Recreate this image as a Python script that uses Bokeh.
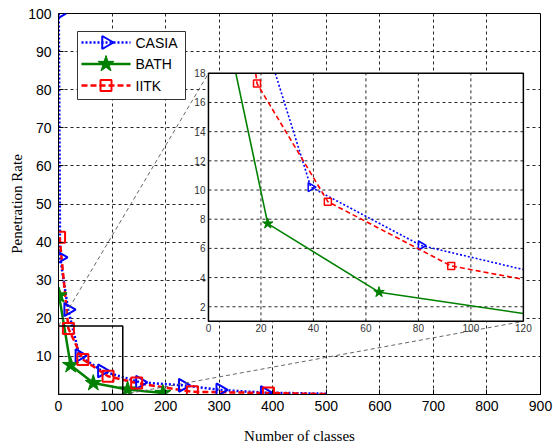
import numpy as np
from bokeh.plotting import figure
from bokeh.models import Range1d, FixedTicker
from bokeh.core.properties import value
from bokeh.embed import file_html
from bokeh.resources import INLINE

# ---------------- data ----------------
series_names = ["CASIA", "BATH", "IITK"]

casia_x = [0.5, 3, 18, 39, 81, 152, 232, 302, 385, 500]
casia_y = [100, 36, 22.3, 10.2, 6.2, 3.2, 2.4, 1.2, 0.5, 0.2]
casia_marks = 9  # markers on the first 9 points

bath_x = [1, 22.6, 65, 129, 195]
bath_y = [26, 7.7, 3.0, 1.3, 0.4]
bath_marks = 5

iitk_x = [2, 18.5, 45.5, 92.5, 146, 250, 392, 500]
iitk_y = [41.3, 17.3, 9.2, 4.8, 3.0, 0.7, 0.4, 0.1]
iitk_marks = 7

x_ticks = [0, 100, 200, 300, 400, 500, 600, 700, 800, 900]
y_ticks = [0, 10, 20, 30, 40, 50, 60, 70, 80, 90, 100]
inset_x_ticks = [0, 20, 40, 60, 80, 100, 120]
inset_y_ticks = [2, 4, 6, 8, 10, 12, 14, 16, 18]

# ---------------- layout constants ----------------
W, H = 553, 448
BL, BR, BT, BB = 58, 13, 13, 54
FRAME_W, FRAME_H = W - BL - BR, H - BT - BB
MAIN_X = (0, 900)
MAIN_Y = (0, 100)
ZOOM_X = (0, 120)
ZOOM_Y = (0, 18)
INSET_XR = (0, 120)
INSET_YR = (1, 18)
BOX_X0, BOX_X1 = 280, 868      # inset placement in main data coords
BOX_Y0, BOX_Y1 = 19.2, 84.3

BLUE, GREEN, RED = "#0000ff", "#008000", "#ff0000"
SANS = "Liberation Sans"
SERIF = "Liberation Serif"

p = figure(width=W, height=H, x_range=MAIN_X, y_range=MAIN_Y,
           output_backend="svg", toolbar_location=None,
           min_border_left=BL, min_border_right=BR, min_border_top=BT,
           min_border_bottom=BB)
p.background_fill_color = "white"
p.border_fill_color = "white"
p.outline_line_color = "black"
p.outline_line_width = 1

p.xaxis.ticker = FixedTicker(ticks=x_ticks)
p.yaxis.ticker = FixedTicker(ticks=y_ticks)
p.yaxis.major_label_overrides = {0: ""}
for ax in (p.xaxis[0], p.yaxis[0]):
    ax.axis_line_color = "black"
    ax.major_tick_in = 5
    ax.major_tick_out = 0
    ax.minor_tick_line_color = None
    ax.major_label_text_font = SANS
    ax.major_label_text_font_size = "14px"
    ax.major_label_text_color = "black"
    ax.axis_label_text_font = SERIF
    ax.axis_label_text_font_size = "15px"
    ax.axis_label_text_font_style = "normal"
    ax.axis_label_text_color = "black"
p.xaxis.axis_label = "Number of classes"
p.yaxis.axis_label = "Penetration Rate"
p.xaxis.major_label_standoff = 6
p.xaxis.axis_label_standoff = 14
p.yaxis.major_label_standoff = 7
p.yaxis.axis_label_standoff = 0

for g in (p.xgrid[0], p.ygrid[0]):
    g.grid_line_color = "black"
    g.grid_line_dash = "3 3"
    g.grid_line_alpha = 0.85
    g.grid_line_width = 1

STYLE = {
    "CASIA": dict(color=BLUE, dash="2 2", idash="2 2", marker="triangle", angle=-np.pi / 2,
                  size=13, isize=9, fill=None),
    "BATH": dict(color=GREEN, dash="solid", idash="solid", marker="star", angle=0,
                 size=17, isize=11, fill=GREEN),
    "IITK": dict(color=RED, dash="6 3", idash="5 3", marker="square", angle=0,
                 size=11, isize=7, fill=None),
}
DATA = {"CASIA": (casia_x, casia_y, casia_marks),
        "BATH": (bath_x, bath_y, bath_marks),
        "IITK": (iitk_x, iitk_y, iitk_marks)}

# ---------------- main series ----------------
for name in ["CASIA", "BATH", "IITK"]:
    xs, ys, n = DATA[name]
    st = STYLE[name]
    p.line(xs, ys, line_color=st["color"], line_width=2.5, line_dash=st["dash"])
for name in ["CASIA", "BATH", "IITK"]:
    xs, ys, n = DATA[name]
    st = STYLE[name]
    p.scatter(xs[:n], ys[:n], marker=st["marker"], angle=st["angle"], size=st["size"],
              fill_color=st["fill"], line_color=st["color"],
              line_width=1 if st["fill"] else 2)

# zoom box
p.quad(left=ZOOM_X[0], right=ZOOM_X[1], bottom=ZOOM_Y[0], top=ZOOM_Y[1],
       fill_color=None, line_color="black", line_width=1.5)
# connectors
p.segment(x0=[ZOOM_X[0], ZOOM_X[1]], y0=[ZOOM_Y[1], ZOOM_Y[0]],
          x1=[BOX_X0, BOX_X1], y1=[BOX_Y1, BOX_Y0],
          line_color="#666666", line_width=1, line_dash="4 3")

# ---------------- inset via extra ranges ----------------
sx = (INSET_XR[1] - INSET_XR[0]) / (BOX_X1 - BOX_X0)
sy = (INSET_YR[1] - INSET_YR[0]) / (BOX_Y1 - BOX_Y0)
p.extra_x_ranges = {"ix": Range1d(INSET_XR[0] - (BOX_X0 - MAIN_X[0]) * sx,
                                  INSET_XR[1] + (MAIN_X[1] - BOX_X1) * sx),
                    "lx": Range1d(0, FRAME_W)}
p.extra_y_ranges = {"iy": Range1d(INSET_YR[0] - (BOX_Y0 - MAIN_Y[0]) * sy,
                                  INSET_YR[1] + (MAIN_Y[1] - BOX_Y1) * sy),
                    "ly": Range1d(FRAME_H, 0)}
IR = dict(x_range_name="ix", y_range_name="iy")
LR = dict(x_range_name="lx", y_range_name="ly")

p.quad(left=INSET_XR[0], right=INSET_XR[1], bottom=INSET_YR[0], top=INSET_YR[1],
       fill_color="white", line_color=None, **IR)
gx = [t for t in inset_x_ticks if INSET_XR[0] < t < INSET_XR[1]]
gy = [t for t in inset_y_ticks if INSET_YR[0] < t < INSET_YR[1]]
p.segment(x0=gx, y0=[INSET_YR[0]] * len(gx), x1=gx, y1=[INSET_YR[1]] * len(gx),
          line_color="black", line_dash="3 3", line_width=1, line_alpha=0.85, **IR)
p.segment(x0=[INSET_XR[0]] * len(gy), y0=gy, x1=[INSET_XR[1]] * len(gy), y1=gy,
          line_color="black", line_dash="3 3", line_width=1, line_alpha=0.85, **IR)


def clip(xs, ys, xr, yr):
    """Clip a polyline to a rectangle (Liang-Barsky); returns list of pieces."""
    pieces, cur = [], []
    for i in range(len(xs) - 1):
        x0, y0, x1, y1 = xs[i], ys[i], xs[i + 1], ys[i + 1]
        dx, dy = x1 - x0, y1 - y0
        t0, t1 = 0.0, 1.0
        ok = True
        for pp, qq in ((-dx, x0 - xr[0]), (dx, xr[1] - x0),
                       (-dy, y0 - yr[0]), (dy, yr[1] - y0)):
            if pp == 0:
                if qq < 0:
                    ok = False
                    break
            else:
                r = qq / pp
                if pp < 0:
                    t0 = max(t0, r)
                else:
                    t1 = min(t1, r)
        if not ok or t0 > t1:
            if cur:
                pieces.append(cur)
                cur = []
            continue
        a = (x0 + t0 * dx, y0 + t0 * dy)
        b = (x0 + t1 * dx, y0 + t1 * dy)
        if not cur:
            cur = [a]
        cur.append(b)
        if t1 < 1.0:
            pieces.append(cur)
            cur = []
    if cur:
        pieces.append(cur)
    return [[q[0] for q in pc] for pc in pieces], [[q[1] for q in pc] for pc in pieces]


def inside(xs, ys, n):
    pts = [(x, y) for x, y in zip(xs[:n], ys[:n])
           if INSET_XR[0] <= x <= INSET_XR[1] and INSET_YR[0] <= y <= INSET_YR[1]]
    return [q[0] for q in pts], [q[1] for q in pts]


for name in ["CASIA", "IITK", "BATH"]:
    xs, ys, n = DATA[name]
    st = STYLE[name]
    cx, cy = clip(xs, ys, INSET_XR, INSET_YR)
    p.multi_line(cx, cy, line_color=st["color"], line_width=1.6, line_dash=st["idash"], **IR)
    mx, my = inside(xs, ys, n)
    p.scatter(mx, my, marker=st["marker"], angle=st["angle"], size=st["isize"],
              fill_color=st["fill"], line_color=st["color"],
              line_width=1 if st["fill"] else 1.5, **IR)

p.quad(left=INSET_XR[0], right=INSET_XR[1], bottom=INSET_YR[0], top=INSET_YR[1],
       fill_color=None, line_color="black", line_width=1.5, **IR)
p.text(x=inset_x_ticks, y=[INSET_YR[0]] * len(inset_x_ticks),
       text=[str(t) for t in inset_x_ticks], text_align="center", text_baseline="top",
       y_offset=3, text_font_size="10px", text_color="#333333",
       text_font=value(SANS), **IR)
p.text(x=[INSET_XR[0]] * len(inset_y_ticks), y=inset_y_ticks,
       text=[str(t) for t in inset_y_ticks], text_align="right", text_baseline="middle",
       x_offset=-3, text_font_size="10px", text_color="#333333",
       text_font=value(SANS), **IR)

# ---------------- legend (frame pixel coordinates, y down) ----------------
LEG_L, LEG_T, LEG_W, LEG_H = 19, 18, 108, 68
ROW0, ROW_STEP = 29, 21.5
LINE_X0, LINE_X1, LABEL_X = 23, 72, 77
p.quad(left=LEG_L, right=LEG_L + LEG_W, top=LEG_T, bottom=LEG_T + LEG_H,
       fill_color="white", line_color="#333333", line_width=1, **LR)
rows = [ROW0 + i * ROW_STEP for i in range(len(series_names))]
for name, ry in zip(series_names, rows):
    st = STYLE[name]
    p.line([LINE_X0, LINE_X1], [ry, ry], line_color=st["color"], line_width=2.5,
           line_dash=st["dash"], **LR)
    p.scatter([(LINE_X0 + LINE_X1) / 2], [ry], marker=st["marker"], angle=st["angle"],
              size=st["size"], fill_color=st["fill"], line_color=st["color"],
              line_width=1 if st["fill"] else 2, **LR)
p.text(x=[LABEL_X] * len(series_names), y=rows, text=series_names,
       text_align="left", text_baseline="middle", text_font_size="14px",
       text_color="black", text_font=value(SANS), **LR)

open("out.html", "w").write(file_html(p, INLINE))
